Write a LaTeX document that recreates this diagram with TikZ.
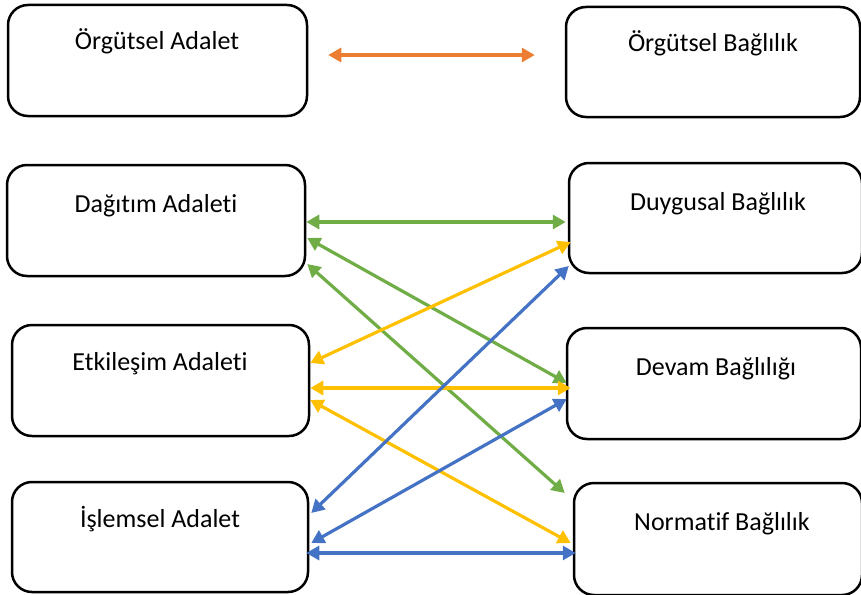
\documentclass[tikz,border=0pt]{standalone}
\usepackage{fontspec}
\setmainfont[Ligatures=NoCommon]{Carlito}
\usetikzlibrary{arrows.meta,calc}
\definecolor{cgreen}{HTML}{70AD47}
\definecolor{corange}{HTML}{ED7D31}
\definecolor{cyellow}{HTML}{FFC000}
\definecolor{cblue}{HTML}{4472C4}
\begin{document}
\begin{tikzpicture}[x=1pt,y=-1pt,
  box/.style={draw=black,line width=2.5pt,rounded corners=20pt,inner sep=0pt},
  lbl/.style={anchor=base,font=\fontsize{26}{30}\selectfont,inner sep=0pt},
  arr/.style={line width=3.2pt,{Triangle[length=13pt,width=14pt]}-{Triangle[length=13pt,width=14pt]}}]
\useasboundingbox (0,0) rectangle (861,594);
% boxes
\node[box,minimum width=299pt,minimum height=111pt] (oa) at (157.5,60.5) {};
\node[box,minimum width=294pt,minimum height=110pt] (ob) at (713,62) {};
\node[box,minimum width=298pt,minimum height=111pt] (dag) at (156,220.5) {};
\node[box,minimum width=293pt,minimum height=110pt] (duy) at (715.5,218) {};
\node[box,minimum width=297pt,minimum height=111pt] (etk) at (160.5,380.5) {};
\node[box,minimum width=294pt,minimum height=111pt] (dev) at (714,383.5) {};
\node[box,minimum width=296pt,minimum height=110pt] (isl) at (160,537) {};
\node[box,minimum width=288pt,minimum height=112pt] (nor) at (718,539) {};
% labels
\node[lbl] (toa) at (157,50) {Örgütsel Adalet};
\node[lbl] (tob) at (713,52) {Örgütsel Bağlılık};
\node[lbl] (tdag) at (156,212) {Dağıtım Adaleti};
\node[lbl] (tduy) at (718,210) {Duygusal Bağlılık};
\node[lbl] (tetk) at (160,370) {Etkileşim Adaleti};
\node[lbl] (tdev) at (716,375) {Devam Bağlılığı};
\node[lbl] (tisl) at (160,527) {İşlemsel Adalet};
\node[lbl] (tnor) at (722,530) {Normatif Bağlılık};
% orange
\draw[arr,corange] ($(oa.east|-0,55)+(20,0)$) -- ($(ob.west|-0,55)+(-30,0)$);
% green
\draw[arr,cgreen] (dag.east|-0,222) -- ($(duy.west|-0,222)+(-2,0)$);
\draw[arr,cgreen] ($(dag.east|-0,238)+(1,0)$) -- ($(dev.west|-0,383)+(1,0)$);
\draw[arr,cgreen] ($(dag.east|-0,264)+(1,0)$) -- ($(nor.west|-0,493)+(-8,0)$);
% yellow
\draw[arr,cyellow] (etk.east|-0,363) -- ($(duy.west|-0,242)+(3,0)$);
\draw[arr,cyellow] (etk.east|-0,388) -- ($(dev.west|-0,388)+(5,0)$);
\draw[arr,cyellow] (etk.east|-0,400) -- ($(nor.west|-0,543)+(-2,0)$);
% blue
\draw[arr,cblue] ($(isl.east|-0,513)+(2,0)$) -- ($(duy.west|-0,266)+(1,0)$);
\draw[arr,cblue] ($(isl.east|-0,543)+(2,0)$) -- ($(dev.west|-0,399)+(1,0)$);
\draw[arr,cblue] ($(isl.east|-0,553)+(-3,0)$) -- ($(nor.west|-0,553)+(3,0)$);
\end{tikzpicture}
\end{document}
